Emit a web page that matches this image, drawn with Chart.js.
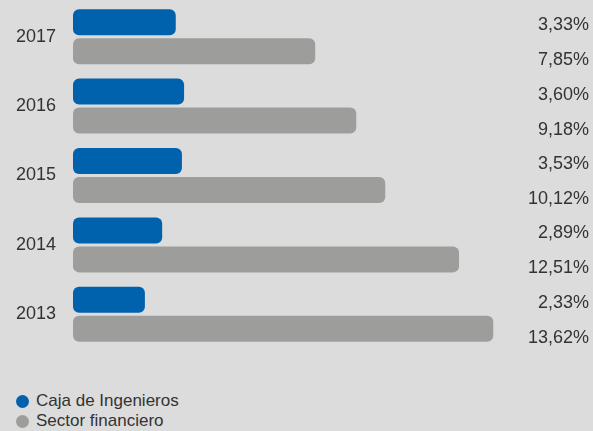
<!DOCTYPE html>
<html>
<head>
<meta charset="utf-8">
<script src="https://cdn.jsdelivr.net/npm/chart.js@4"></script>
<style>
  html, body { margin: 0; padding: 0; background: #dcdcdc; }
  #wrap { position: relative; width: 593px; height: 431px; font-family: "Liberation Sans", Arial, sans-serif; }
  #barChart { position: absolute; left: 0; top: 0; }
  #legend { position: absolute; left: 16px; top: 391px; font-size: 17px; color: #333; }
  .leg-item { display: flex; align-items: center; height: 20px; }
  .leg-dot { width: 13px; height: 13px; border-radius: 50%; margin-right: 7px; }
</style>
</head>
<body>
<div id="wrap">
  <canvas id="barChart" width="593" height="350"></canvas>
  <div id="legend"></div>
</div>
<script>
const years = ["2017", "2016", "2015", "2014", "2013"];
const cajaValues = [3.33, 3.60, 3.53, 2.89, 2.33];
const sectorValues = [7.85, 9.18, 10.12, 12.51, 13.62];
const seriesNames = ["Caja de Ingenieros", "Sector financiero"];
const seriesColors = ["#0062ad", "#9d9d9b"];

const fmt = v => v.toFixed(2).replace(".", ",") + "%";

// value text drawn at the right edge, one line per bar
const valueLabels = {
    id: "valueLabels",
    afterDatasetsDraw(chart) {
        const ctx = chart.ctx;
        ctx.save();
        ctx.font = '18px "Liberation Sans", Arial, sans-serif';
        ctx.fillStyle = "#333";
        ctx.textAlign = "right";
        ctx.textBaseline = "middle";
        const offsets = [3, 9];
        chart.data.datasets.forEach((ds, di) => {
            chart.getDatasetMeta(di).data.forEach((bar, i) => {
                ctx.fillText(fmt(ds.data[i]), 589, bar.y + offsets[di]);
            });
        });
        ctx.restore();
    }
};

const ctx = document.getElementById("barChart").getContext("2d");
new Chart(ctx, {
    type: "bar",
    data: {
        labels: years,
        datasets: [
            { label: seriesNames[0], data: cajaValues, backgroundColor: seriesColors[0] },
            { label: seriesNames[1], data: sectorValues, backgroundColor: seriesColors[1] }
        ]
    },
    options: {
        indexAxis: "y",
        responsive: false,
        animation: false,
        layout: { padding: { top: 2, bottom: 1, right: 88, left: 0 } },
        datasets: {
            bar: {
                categoryPercentage: 0.835,
                barPercentage: 0.897,
                borderRadius: 6,
                borderSkipped: false
            }
        },
        plugins: {
            legend: { display: false },
            tooltip: { enabled: false }
        },
        scales: {
            x: { display: false, min: 0, max: 14 },
            y: {
                grid: { display: false, drawTicks: false },
                border: { display: false },
                ticks: {
                    color: "#333",
                    padding: 17,
                    font: { family: '"Liberation Sans", Arial, sans-serif', size: 18 }
                },
                afterFit(scale) {
                    scale.width = 73;
                    scale.paddingTop = 0;
                    scale.paddingBottom = 0;
                }
            }
        }
    },
    plugins: [valueLabels]
});

// legend stacked under the chart
const legendEl = document.getElementById("legend");
legendEl.innerHTML = seriesNames.map((name, i) => `
    <div class="leg-item"><span class="leg-dot" style="background:${seriesColors[i]}"></span>${name}</div>
`).join("");
</script>
</body>
</html>
